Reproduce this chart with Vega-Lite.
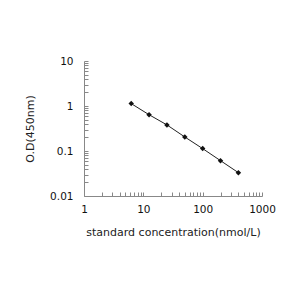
{
  "$schema": "https://vega.github.io/schema/vega-lite/v6.json",
  "autosize": "none",
  "width": 178,
  "height": 135,
  "padding": {"left": 84, "top": 61, "right": 38, "bottom": 104},
  "background": "white",
  "config": {"view": {"stroke": null}, "font": "DejaVu Sans"},
  "data": {"values": [
    {"conc": 6.25, "od": 1.13},
    {"conc": 12.5, "od": 0.64},
    {"conc": 25, "od": 0.38},
    {"conc": 50, "od": 0.205},
    {"conc": 100, "od": 0.113},
    {"conc": 200, "od": 0.061},
    {"conc": 400, "od": 0.033}
  ]},
  "encoding": {
    "x": {"field": "conc", "type": "quantitative",
      "scale": {"type": "log", "domain": [1, 1000], "nice": false},
      "axis": {"title": "standard concentration(nmol/L)", "grid": false,
        "values": [1,2,3,4,5,6,7,8,9,10,20,30,40,50,60,70,80,90,100,200,300,400,500,600,700,800,900,1000],
        "labelExpr": "indexof([1,10,100,1000], datum.value) >= 0 ? format(datum.value, '~g') : ''",
        "tickSize": -4, "labelPadding": 12, "domainColor": "#888", "tickColor": "#888",
        "labelColor": "#111", "labelFontSize": 10.5, "labelFont": "DejaVu Sans", "labelFlush": false,
        "titleFont": "DejaVu Sans", "titleFontSize": 11, "titleFontWeight": "normal", "titleColor": "#222", "titlePadding": 12}},
    "y": {"field": "od", "type": "quantitative",
      "scale": {"type": "log", "domain": [0.01, 10], "nice": false},
      "axis": {"title": "O.D(450nm)", "grid": false,
        "values": [0.01,0.02,0.03,0.04,0.05,0.06,0.07,0.08,0.09,0.1,0.2,0.3,0.4,0.5,0.6,0.7,0.8,0.9,1,2,3,4,5,6,7,8,9,10],
        "labelExpr": "indexof([0.01,0.1,1,10], datum.value) >= 0 ? format(datum.value, '~g') : ''",
        "tickSize": -4, "labelPadding": 15, "domainColor": "#888", "tickColor": "#888",
        "labelColor": "#111", "labelFontSize": 10.5, "labelFont": "DejaVu Sans", "labelFlush": false,
        "titleFont": "DejaVu Sans", "titleFontSize": 11, "titleFontWeight": "normal", "titleColor": "#222", "titlePadding": 14}}
  },
  "layer": [
    {"mark": {"type": "line", "color": "#222", "strokeWidth": 1}},
    {"mark": {"type": "point", "shape": "diamond", "filled": true, "color": "#111", "size": 30, "opacity": 1}}
  ]
}
